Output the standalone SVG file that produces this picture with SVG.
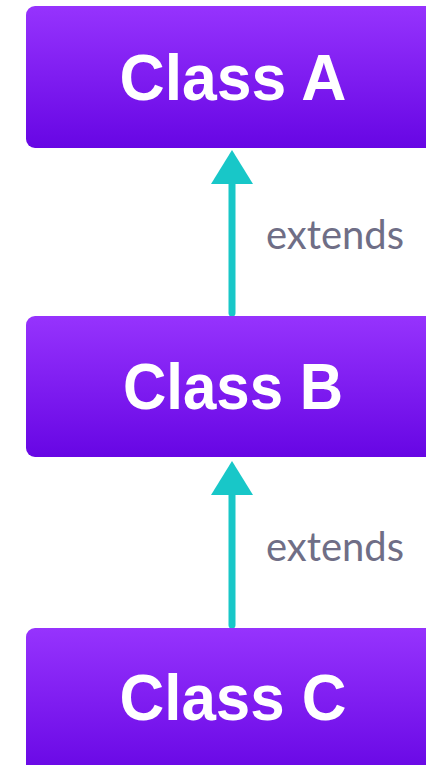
<svg xmlns="http://www.w3.org/2000/svg" width="426" height="765" viewBox="0 0 426 765">
<defs>
<linearGradient id="g" x1="0" y1="0" x2="0" y2="1">
<stop offset="0" stop-color="#9633fd"/>
<stop offset="1" stop-color="#6706e4"/>
</linearGradient>
<style>
.box{fill:url(#g);}
.t{font-family:"Liberation Sans",Arial,sans-serif;font-weight:bold;font-size:64px;fill:#ffffff;text-anchor:middle;}
.l{font-family:"Lato","Liberation Sans",sans-serif;font-size:40px;fill:#6f6e86;}
.c{stroke:#18c7c8;stroke-width:7;stroke-linecap:round;fill:none;}
.h{fill:#18c7c8;}
</style>
</defs>
<rect width="426" height="765" fill="#ffffff"/>
<g id="connectors">
<line class="c" x1="232" y1="313" x2="232" y2="180"/>
<polygon class="h" points="232,150 253,184 211,184"/>
<text class="l" x="266" y="249" textLength="138" lengthAdjust="spacingAndGlyphs">extends</text>
<line class="c" x1="232" y1="625" x2="232" y2="492"/>
<polygon class="h" points="232,461 253,495 211,495"/>
<text class="l" x="266" y="561" textLength="138" lengthAdjust="spacingAndGlyphs">extends</text>
</g>
<g id="classA">
<rect class="box" x="26" y="6" width="416" height="142" rx="9"/>
<text class="t" x="233" y="100" textLength="227" lengthAdjust="spacingAndGlyphs">Class A</text>
</g>
<g id="classB">
<rect class="box" x="26" y="316" width="416" height="141" rx="9"/>
<text class="t" x="233" y="409" textLength="220" lengthAdjust="spacingAndGlyphs">Class B</text>
</g>
<g id="classC">
<rect class="box" x="26" y="628" width="416" height="150" rx="9"/>
<text class="t" x="233" y="720" textLength="227" lengthAdjust="spacingAndGlyphs">Class C</text>
</g>
</svg>
